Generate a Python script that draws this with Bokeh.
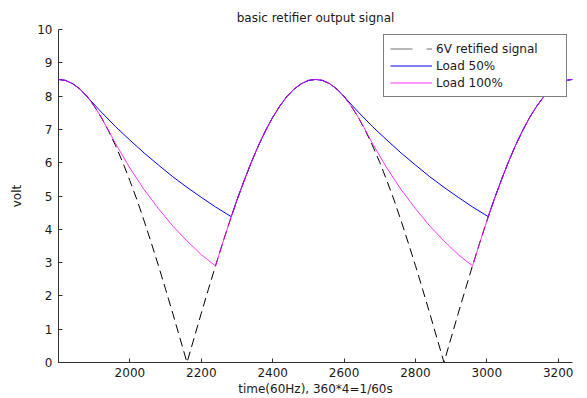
from bokeh.plotting import figure
from bokeh.models import Range1d, FixedTicker
from bokeh.embed import file_html
from bokeh.resources import INLINE

# Full-wave rectified 6V signal (peak 8.5 V), sampled every 20 time units
signal_t = list(range(1800, 3241, 20))
signal_v = [8.50, 8.47, 8.37, 8.21, 7.99, 7.70, 7.36, 6.96, 6.51, 6.01,
            5.46, 4.88, 4.25, 3.59, 2.91, 2.20, 1.48, 0.74, 0.00,
            0.74, 1.48, 2.20, 2.91, 3.59, 4.25, 4.88, 5.46, 6.01, 6.51,
            6.96, 7.36, 7.70, 7.99, 8.21, 8.37, 8.47, 8.50,
            8.47, 8.37, 8.21, 7.99, 7.70, 7.36, 6.96, 6.51, 6.01,
            5.46, 4.88, 4.25, 3.59, 2.91, 2.20, 1.48, 0.74, 0.00,
            0.74, 1.48, 2.20, 2.91, 3.59, 4.25, 4.88, 5.46, 6.01, 6.51,
            6.96, 7.36, 7.70, 7.99, 8.21, 8.37, 8.47, 8.50]

# Output with a 50% load: capacitor discharge between peaks
load50_t = [1800, 1820, 1840, 1860, 1875, 1920, 1960, 2000, 2040, 2080,
            2120, 2160, 2200, 2240, 2284, 2300, 2320, 2340, 2360, 2380,
            2400, 2420, 2440, 2460, 2480, 2500, 2520, 2540, 2560, 2580,
            2595, 2640, 2680, 2720, 2760, 2800, 2840, 2880, 2920, 2960,
            3004, 3020, 3040, 3060, 3080, 3100, 3120, 3140, 3160, 3180,
            3200, 3220, 3240]
load50_v = [8.50, 8.47, 8.37, 8.21, 8.04, 7.52, 7.08, 6.68, 6.29, 5.93,
            5.58, 5.26, 4.96, 4.67, 4.38, 4.88, 5.46, 6.01, 6.51, 6.96,
            7.36, 7.70, 7.99, 8.21, 8.37, 8.47, 8.50, 8.47, 8.37, 8.21,
            8.04, 7.52, 7.08, 6.68, 6.29, 5.93, 5.58, 5.26, 4.96, 4.67,
            4.38, 4.88, 5.46, 6.01, 6.51, 6.96, 7.36, 7.70, 7.99, 8.21,
            8.37, 8.47, 8.50]

# Output with a 100% load: faster discharge
load100_t = [1800, 1820, 1840, 1860, 1880, 1900, 1920, 1936, 1960, 2000,
             2040, 2080, 2120, 2160, 2200, 2240, 2260, 2280, 2300, 2320,
             2340, 2360, 2380, 2400, 2420, 2440, 2460, 2480, 2500, 2520,
             2540, 2560, 2580, 2600, 2620, 2640, 2656, 2680, 2720, 2760,
             2800, 2840, 2880, 2920, 2960, 2980, 3000, 3020, 3040, 3060,
             3080, 3100, 3120, 3140, 3160, 3180, 3200, 3220, 3240]
load100_v = [8.50, 8.47, 8.37, 8.21, 7.99, 7.70, 7.36, 7.05, 6.57, 5.84,
             5.19, 4.62, 4.10, 3.65, 3.24, 2.90, 3.59, 4.25, 4.88, 5.46,
             6.01, 6.51, 6.96, 7.36, 7.70, 7.99, 8.21, 8.37, 8.47, 8.50,
             8.47, 8.37, 8.21, 7.99, 7.70, 7.36, 7.05, 6.57, 5.84, 5.19,
             4.62, 4.10, 3.65, 3.24, 2.90, 3.59, 4.25, 4.88, 5.46, 6.01,
             6.51, 6.96, 7.36, 7.70, 7.99, 8.21, 8.37, 8.47, 8.50]

x_ticks = [2000, 2200, 2400, 2600, 2800, 3000, 3200]
y_ticks = [0, 1, 2, 3, 4, 5, 6, 7, 8, 9, 10]

FONT = "DejaVu Sans"
INK = "#1a1a1a"

p = figure(width=587, height=398, output_backend="svg", toolbar_location=None,
           x_range=Range1d(1800, 3240), y_range=Range1d(0, 10),
           min_border_left=58, min_border_right=15,
           min_border_top=29, min_border_bottom=36,
           title="basic retifier output signal")

p.title.align = "center"
p.title.text_font = FONT
p.title.text_font_size = "12px"
p.title.text_font_style = "normal"
p.title.text_color = INK
p.title.standoff = 9

p.outline_line_color = None
p.xgrid.visible = False
p.ygrid.visible = False
p.background_fill_color = "white"
p.border_fill_color = "white"

# Legend-only sample for the dashed trace (nothing drawn in the plot area)
p.line(x=[float("nan")], y=[float("nan")], line_color="#707070", line_width=1,
       line_dash="22 14", legend_label="6V retified signal")
p.line(signal_t, signal_v, line_color="black", line_width=1, line_dash="9 5")
p.line(load50_t, load50_v, line_color="#0000ff", line_width=1,
       legend_label="Load 50%")
p.line(load100_t, load100_v, line_color="#ff00ff", line_width=1, line_alpha=0.8,
       legend_label="Load 100%")

for ax in (p.xaxis[0], p.yaxis[0]):
    ax.axis_line_color = "#333333"
    ax.major_tick_line_color = "#333333"
    ax.major_tick_in = 4
    ax.major_tick_out = 0
    ax.minor_tick_in = 0
    ax.minor_tick_out = 0
    ax.major_label_text_font = FONT
    ax.major_label_text_font_size = "12px"
    ax.major_label_text_color = INK
    ax.axis_label_text_font = FONT
    ax.axis_label_text_font_size = "12px"
    ax.axis_label_text_font_style = "normal"
    ax.axis_label_text_color = INK

p.xaxis[0].ticker = FixedTicker(ticks=x_ticks)
p.yaxis[0].ticker = FixedTicker(ticks=y_ticks)
p.xaxis[0].axis_label = "time(60Hz), 360*4=1/60s"
p.yaxis[0].axis_label = "volt"
p.xaxis[0].major_label_standoff = 5
p.yaxis[0].major_label_standoff = 6
p.xaxis[0].axis_label_standoff = 2
p.yaxis[0].axis_label_standoff = 10

lg = p.legend[0]
lg.location = "top_right"
lg.margin = 5
lg.padding = 6
lg.spacing = 2
lg.label_height = 15
lg.glyph_height = 15
lg.glyph_width = 42
lg.label_standoff = 4
lg.label_width = 124
lg.label_text_font = FONT
lg.label_text_font_size = "12px"
lg.label_text_color = INK
lg.border_line_color = "black"
lg.border_line_width = 1
lg.background_fill_color = "white"
lg.background_fill_alpha = 1.0

open("out.html", "w").write(file_html(p, INLINE))
